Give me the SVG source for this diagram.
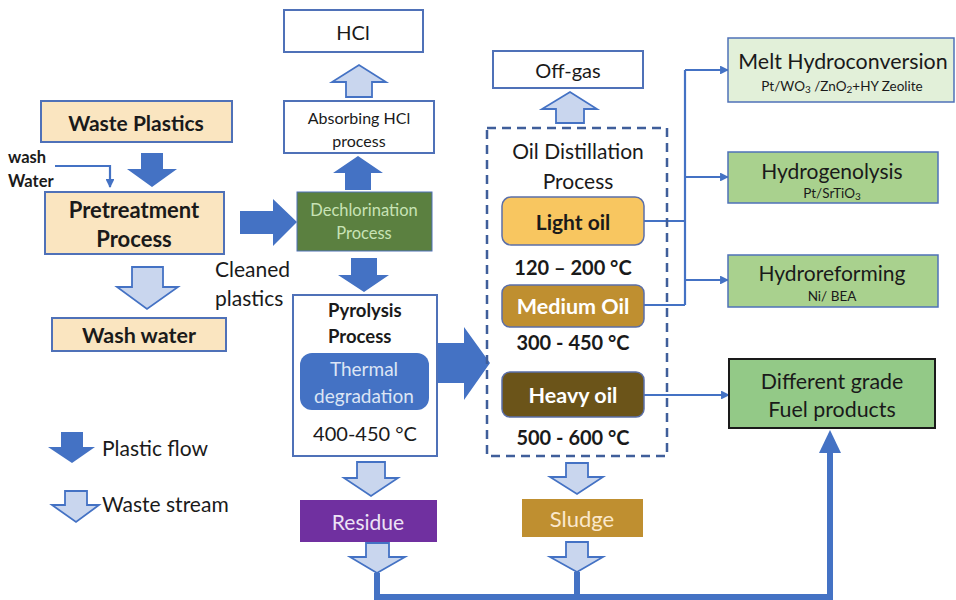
<svg xmlns="http://www.w3.org/2000/svg" width="956" height="600" viewBox="0 0 956 600">
<defs>
<style>
text{font-family:Lato,"Liberation Sans",sans-serif;text-anchor:middle;dominant-baseline:central;fill:#1a1a1a}
.b{font-weight:bold}
.wheat{fill:#FAE5C0;stroke:#4F71B8;stroke-width:2}
.white{fill:#fff;stroke:#4F71B8;stroke-width:2}
.dark{fill:#4472C4}
.light{fill:#C9D6EE;stroke:#4472C4;stroke-width:1.8;stroke-linejoin:miter}
.con{fill:none;stroke:#4472C4;stroke-width:2.2}
.thick{fill:none;stroke:#4472C4;stroke-width:6}
</style>
<marker id="ah" viewBox="0 0 10 10" refX="9" refY="5" markerWidth="4" markerHeight="4" orient="auto" markerUnits="strokeWidth">
<path d="M0,0 L10,5 L0,10 Z" fill="#4472C4"/>
</marker>
</defs>
<rect width="956" height="600" fill="#fff"/>

<g id="connectors">
<path class="dark" d="M141,153 L163,153 L163,169 L177,169 L152,187 L127,169 L141,169 Z"/>
<path class="dark" d="M345,190 L371,190 L371,173 L383,173 L358,156 L333,173 L345,173 Z"/>
<path class="light" d="M346,97 L372,97 L372,82 L386,82 L359,65 L332,82 L346,82 Z"/>
<path class="dark" d="M351,258 L377,258 L377,275 L389,275 L364,292 L338,275 L351,275 Z"/>
<path class="light" d="M132,267 L163,267 L163,287 L178,287 L147,309 L117,287 L132,287 Z"/>
<path class="light" d="M357,462 L385,462 L385,478 L398,478 L371,496 L344,478 L357,478 Z"/>
<path class="light" d="M366,543 L389,543 L389,557 L405,557 L377,573 L350,557 L366,557 Z"/>
<path class="light" d="M566,463 L588,463 L588,477 L603,477 L577,494 L550,477 L566,477 Z"/>
<path class="light" d="M566,542 L588,542 L588,557 L603,557 L577,572 L550,557 L566,557 Z"/>
<path class="light" d="M556,123 L584,123 L584,109 L597,109 L570,92 L542,109 L556,109 Z"/>
<path class="dark" d="M240,211 L273,211 L273,199 L297,222 L273,246 L273,234 L240,234 Z"/>
<path class="dark" d="M437,343 L464,343 L464,327 L490,363 L464,400 L464,383 L437,383 Z"/>
<path class="thick" d="M377,573 L377,597 L830,597 L830,450"/>
<path class="thick" d="M577,572 L577,597"/>
<path class="dark" d="M819,453 L841,453 L830,430 Z"/>
<path class="con" d="M55,166 L110,166 L110,187" marker-end="url(#ah)"/>
<path class="con" d="M644,221 L685,221 M644,305 L685,305 M685,70 L685,305"/>
<path class="con" d="M685,70 L728,70" marker-end="url(#ah)"/>
<path class="con" d="M685,177 L728,177" marker-end="url(#ah)"/>
<path class="con" d="M685,280 L728,280" marker-end="url(#ah)"/>
<path class="con" d="M644,395 L729,395" marker-end="url(#ah)"/>
</g>

<g id="waste-plastics">
<rect class="wheat" x="41" y="101" width="191" height="41"/>
<text class="b" x="136" y="122" font-size="21">Waste Plastics</text>
</g>
<g id="wash-water-label">
<text class="b" x="8" y="157" font-size="16.5" style="text-anchor:start">wash</text>
<text class="b" x="8" y="181" font-size="16.5" style="text-anchor:start">Water</text>
</g>
<g id="pretreatment">
<rect class="wheat" x="45" y="192" width="179" height="62"/>
<text class="b" x="134" y="209" font-size="22">Pretreatment</text>
<text class="b" x="134" y="238" font-size="22">Process</text>
</g>
<g id="wash-water">
<rect class="wheat" x="52" y="318" width="174" height="33"/>
<text class="b" x="139" y="335" font-size="21.5">Wash water</text>
</g>
<g id="cleaned-label">
<text x="215" y="268" font-size="21" style="text-anchor:start">Cleaned</text>
<text x="215" y="297" font-size="21" style="text-anchor:start">plastics</text>
</g>
<g id="hcl">
<rect class="white" x="284" y="10" width="139" height="42"/>
<text x="353" y="32" font-size="20">HCl</text>
</g>
<g id="absorbing">
<rect class="white" x="284" y="101" width="150" height="52"/>
<text x="359" y="117" font-size="16">Absorbing HCl</text>
<text x="359" y="140" font-size="16">process</text>
</g>
<g id="dechlorination">
<rect x="297" y="192" width="135" height="59" fill="#5B8040" stroke="#4F71B8" stroke-width="1"/>
<text x="364" y="210" font-size="16.5" style="fill:#C8E3B5">Dechlorination</text>
<text x="364" y="233" font-size="16.5" style="fill:#C8E3B5">Process</text>
</g>
<g id="pyrolysis">
<rect class="white" x="293" y="295" width="144" height="161"/>
<text class="b" x="328" y="310" font-size="18.5" style="text-anchor:start">Pyrolysis</text>
<text class="b" x="328" y="336" font-size="18.5" style="text-anchor:start">Process</text>
<rect x="300" y="353" width="129" height="57" rx="12" fill="#4472C4"/>
<text x="364" y="368" font-size="19" style="fill:#DCE5F5">Thermal</text>
<text x="364" y="395" font-size="19" style="fill:#DCE5F5">degradation</text>
<text x="365" y="433" font-size="20">400-450 °C</text>
</g>
<g id="residue">
<rect x="300" y="500" width="137" height="42" fill="#7030A0"/>
<text x="368" y="521" font-size="21" style="fill:#EDE3F5">Residue</text>
</g>
<g id="off-gas">
<rect class="white" x="493" y="51" width="150" height="37"/>
<text x="568" y="70" font-size="20">Off-gas</text>
</g>
<g id="oil-distillation">
<rect x="487" y="128" width="180" height="328" fill="none" stroke="#3F5E9A" stroke-width="2.5" stroke-dasharray="9,6"/>
<text x="578" y="150" font-size="21">Oil Distillation</text>
<text x="578" y="180" font-size="21">Process</text>
</g>
<g id="light-oil">
<rect x="502" y="197" width="142" height="48" rx="9" fill="#F8C660" stroke="#5B6FA8" stroke-width="1.5"/>
<text class="b" x="573" y="221" font-size="21">Light oil</text>
<text class="b" x="573" y="267" font-size="20">120 – 200 °C</text>
</g>
<g id="medium-oil">
<rect x="502" y="285" width="142" height="42" rx="8" fill="#BF8F30" stroke="#5B6FA8" stroke-width="1.5"/>
<text class="b" x="573" y="306" font-size="21.5" style="fill:#fff">Medium Oil</text>
<text class="b" x="573" y="342" font-size="20">300 - 450 °C</text>
</g>
<g id="heavy-oil">
<rect x="502" y="372" width="142" height="45" rx="8" fill="#6B5419" stroke="#5B6FA8" stroke-width="1.5"/>
<text class="b" x="573" y="395" font-size="21.5" style="fill:#fff">Heavy oil</text>
<text class="b" x="573" y="437" font-size="20">500 - 600 °C</text>
</g>
<g id="sludge">
<rect x="522" y="499" width="121" height="38" fill="#BF8F30"/>
<text x="582" y="518" font-size="22" style="fill:#FBE8CC">Sludge</text>
</g>
<g id="melt-hydroconversion">
<rect x="728" y="38" width="226" height="64" fill="#E2F0D9" stroke="#4F71B8" stroke-width="1.5"/>
<text x="843" y="61" font-size="21.4">Melt Hydroconversion</text>
<text x="842" y="86" font-size="13.5">Pt/WO<tspan font-size="10" dy="3">3</tspan><tspan dy="-3"> /ZnO</tspan><tspan font-size="10" dy="3">2</tspan><tspan dy="-3">+HY Zeolite</tspan></text>
</g>
<g id="hydrogenolysis">
<rect x="728" y="152" width="210" height="51" fill="#A9D18E" stroke="#4F71B8" stroke-width="1.5"/>
<text x="832" y="170" font-size="21">Hydrogenolysis</text>
<text x="832" y="193" font-size="13.5">Pt/SrTiO<tspan font-size="10" dy="3">3</tspan></text>
</g>
<g id="hydroreforming">
<rect x="728" y="255" width="210" height="52" fill="#A9D18E" stroke="#4F71B8" stroke-width="1.5"/>
<text x="832" y="272" font-size="21">Hydroreforming</text>
<text x="832" y="296" font-size="13.5">Ni/ BEA</text>
</g>
<g id="fuel-products">
<rect x="729" y="359" width="206" height="69" fill="#93C987" stroke="#1a1a1a" stroke-width="2"/>
<text x="832" y="381" font-size="21.4">Different grade</text>
<text x="832" y="409" font-size="21.4">Fuel products</text>
</g>
<g id="legend">
<path class="dark" d="M61,432 L83,432 L83,447 L95,447 L72,463 L48,447 L61,447 Z"/>
<text x="102" y="447" font-size="21" style="text-anchor:start">Plastic flow</text>
<path class="light" d="M65,491 L87,491 L87,505 L99,505 L76,522 L52,505 L65,505 Z"/>
<text x="102" y="503" font-size="21" style="text-anchor:start">Waste stream</text>
</g>
</svg>
